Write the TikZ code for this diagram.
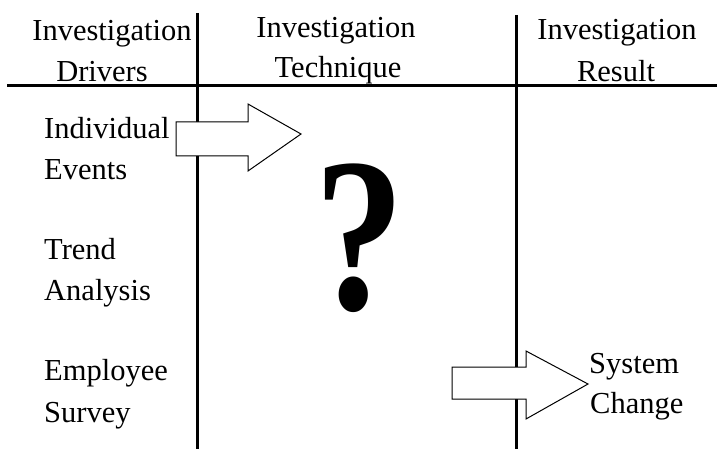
\documentclass[tikz,border=0pt]{standalone}
\usepackage{fontspec}
\setmainfont{Liberation Serif}
\begin{document}
\begin{tikzpicture}[x=1pt,y=-1pt,
  txt/.style={inner sep=0pt,font=\fontsize{30.5}{41}\selectfont},
  head/.style={txt,anchor=base},
  item/.style={txt,anchor=base west},
  rule/.style={line width=3pt},
  blockarrow/.style={fill=white,draw=black,line width=1pt,line join=miter}]
\useasboundingbox (0,0) rectangle (717,449);

% righe della tabella
\coordinate (hl) at (7,86);
\coordinate (hr) at (717,86);
\coordinate (vat) at (197,13);
\coordinate (vab) at (197,449);
\coordinate (vbt) at (516,15);
\coordinate (vbb) at (516,449);
\draw[rule] (hl)--(hr);
\draw[rule] (vat)--(vab);
\draw[rule] (vbt)--(vbb);

% intestazioni
\node[head] (drv1) at (112,41) {Investigation};
\node[head] (drv2) at (102,82) {Drivers};
\node[head] (tec1) at (336,38) {Investigation};
\node[head] (tec2) at (338,78) {Technique};
\node[head] (res1) at (617,40) {Investigation};
\node[head] (res2) at (616,82) {Result};

% colonna di sinistra
\node[item] (ind) at (44,139) {Individual};
\node[item] (evt) at (44,180) {Events};
\node[item] (trd) at (44,259) {Trend};
\node[item] (ana) at (44,300) {Analysis};
\node[item] (emp) at (44,380) {Employee};
\node[item] (srv) at (44,422) {Survey};

% frecce piene
\draw[blockarrow] (176,122) -- (248,122) -- (248,104) -- (301,134) -- (248,171) -- (248,156) -- (176,156) -- cycle;
\draw[blockarrow] (452,367) -- (526,367) -- (526,351) -- (588,384) -- (526,419) -- (526,399) -- (452,399) -- cycle;

\node[item] (sys) at (589,373) {System};
\node[item] (chg) at (590,413) {Change};

% punto interrogativo al centro
\node[inner sep=0pt,font=\fontsize{220}{220}\selectfont\bfseries] (qm) at (360,238) {\scalebox{0.82}[1]{?}};
\end{tikzpicture}
\end{document}
